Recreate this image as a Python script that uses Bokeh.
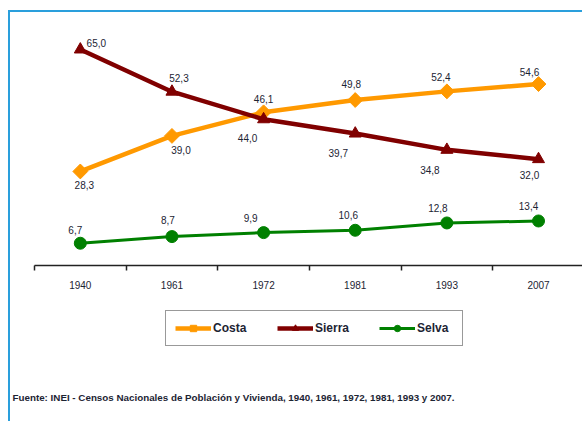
from bokeh.plotting import figure
from bokeh.layouts import column
from bokeh.models import ColumnDataSource, Range1d, FixedTicker, Legend, LegendItem, Title, InlineStyleSheet
from bokeh.embed import file_html
from bokeh.resources import INLINE
from bokeh.core.properties import value

# ---- data ----
years = ["1940", "1961", "1972", "1981", "1993", "2007"]
costa = [28.3, 39.0, 46.1, 49.8, 52.4, 54.6]
sierra = [65.0, 52.3, 44.0, 39.7, 34.8, 32.0]
selva = [6.7, 8.7, 9.9, 10.6, 12.8, 13.4]
series_names = ["Costa", "Sierra", "Selva"]
source_note = "Fuente: INEI - Censos Nacionales de Población y Vivienda, 1940, 1961, 1972, 1981, 1993 y 2007."

# ---- label placement (styles, pixel offsets) ----
costa_dx = [4, 9, 0, -4, -6, -9]
costa_dy = [14, 14, -13, -16, -14, -12]
sierra_dx = [16, 7, -16, -17, -17, -9]
sierra_dy = [-7, -14, 19, 19, 20, 16]
selva_dx = [-5, -4, -13, -7, -9, -10]
selva_dy = [-13, -17, -15, -15, -15, -15]

C_COSTA = "#FF9900"
C_SIERRA = "#800000"
C_SELVA = "#008000"
TXT = "#1c2433"
FONT = "Liberation Sans"
BLUE = "#2A9FDC"

styles = [
    (C_COSTA, "square", 10.5, 4.5, 0.785398),
    (C_SIERRA, "triangle", 12, 4.5, 0.0),
    (C_SELVA, "circle", 12, 3, 0.0),
]

xpos = [i + 0.5 for i in range(len(years))]
series = [costa, sierra, selva]

# ---------------- chart ----------------
p = figure(width=582, height=300, x_range=Range1d(0, 5.98), y_range=Range1d(0, 76.74),
           output_backend="svg", toolbar_location=None,
           min_border_left=34, min_border_right=0, min_border_top=10, min_border_bottom=35)
p.outline_line_color = None
p.grid.visible = False
p.yaxis.visible = False
p.background_fill_alpha = 0
p.border_fill_alpha = 0

ax = p.xaxis[0]
ax.ticker = FixedTicker(ticks=xpos, minor_ticks=list(range(len(years) + 1)))
ax.major_label_overrides = {xv: yr for xv, yr in zip(xpos, years)}
ax.major_tick_line_color = None
ax.major_tick_in = 0
ax.major_tick_out = 0
ax.minor_tick_in = 0
ax.minor_tick_out = 5
ax.minor_tick_line_color = "#222222"
ax.minor_tick_line_width = 1.5
ax.axis_line_color = "#222222"
ax.axis_line_width = 1.5
ax.major_label_standoff = 10
ax.major_label_text_font = FONT
ax.major_label_text_font_size = "10px"
ax.major_label_text_color = TXT

def fmt(v):
    return f"{v:.1f}".replace(".", ",")

for vals, (color, marker, size, lw, ang), dx, dy in zip(
        series, styles,
        [costa_dx, sierra_dx, selva_dx], [costa_dy, sierra_dy, selva_dy]):
    src = ColumnDataSource(dict(x=xpos, y=vals, lab=[fmt(v) for v in vals], dx=dx, dy=dy))
    p.line("x", "y", source=src, line_color=color, line_width=lw)
    p.scatter("x", "y", source=src, marker=marker, size=size, angle=ang,
              fill_color=color, line_color=color)
    p.text("x", "y", text="lab", source=src, x_offset="dx", y_offset="dy",
           text_align="center", text_baseline="middle", text_font=value(FONT),
           text_font_size="10px", text_color=TXT)

# ---------------- legend + source note ----------------
q = figure(width=582, height=121, x_range=Range1d(-1, 0), y_range=Range1d(-1, 0),
           output_backend="svg", toolbar_location=None,
           min_border_left=0, min_border_right=0, min_border_top=0, min_border_bottom=40)
q.axis.visible = False
q.grid.visible = False
q.outline_line_color = None
q.background_fill_alpha = 0
q.border_fill_alpha = 0

items = []
for name, vals, (color, marker, size, lw, ang) in zip(series_names, series, styles):
    # same series, drawn outside this panel's (empty) view: only the legend key shows
    src = ColumnDataSource(dict(x=xpos, y=vals))
    r1 = q.line("x", "y", source=src, line_color=color, line_width=lw)
    r2 = q.scatter("x", "y", source=src, marker=marker, size=size * 0.75, angle=ang,
                   fill_color=color, line_color=color)
    items.append(LegendItem(label=name, renderers=[r1, r2]))

legend = Legend(items=items, orientation="horizontal", location=(131, 35),
                border_line_color="#333333", border_line_width=1.5,
                background_fill_color="white", background_fill_alpha=1,
                label_text_font=FONT, label_text_font_style="bold",
                label_text_font_size="12px", label_text_color=TXT,
                glyph_width=36, glyph_height=16, label_height=16, label_width=36,
                label_standoff=2, spacing=28, padding=9, margin=0)
q.add_layout(legend)

note = Title(text=source_note, align="left", offset=-22, standoff=16,
             text_font=FONT, text_font_style="bold", text_font_size="9.8px",
             text_color=TXT)
q.add_layout(note, "below")

border_css = InlineStyleSheet(css=(
    ":host { box-shadow: inset 0 10px 0 0 #ffffff, inset 8px 0 0 0 #ffffff, "
    "inset 0 12px 0 0 %s, inset 10px 0 0 0 %s; }" % (BLUE, BLUE)))
layout = column(p, q, spacing=0, stylesheets=[border_css])

open("out.html", "w").write(file_html(layout, INLINE))
